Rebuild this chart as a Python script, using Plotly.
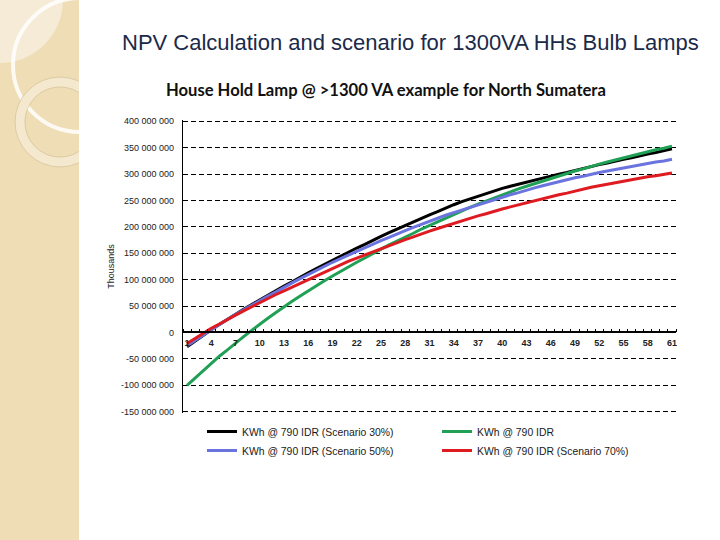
import plotly.graph_objects as go

# ---------------- data (values in the displayed unit, millions) ----------------
years = list(range(1, 62))

scenario_30 = [-27, -16, -5, 5, 15, 25, 35, 44, 53, 62,
               71, 79, 88, 96, 105, 113, 121, 129, 137, 145,
               152, 160, 167, 175, 182, 189, 196, 203, 210, 216,
               223, 229, 236, 242, 248, 253, 259, 264, 268, 273,
               277, 281, 285, 289, 292, 296, 300, 303, 307, 311,
               314, 318, 321, 325, 328, 331, 335, 338, 341, 345,
               348]

base_790 = [-100, -86, -72, -58, -45, -33, -20, -8, 4, 16,
            27, 38, 49, 59, 69, 79, 88, 98, 107, 116,
            124, 133, 141, 150, 158, 166, 173, 181, 188, 196,
            203, 210, 217, 224, 230, 237, 243, 249, 255, 261,
            266, 272, 277, 282, 287, 292, 297, 301, 306, 310,
            315, 319, 323, 327, 331, 335, 338, 342, 346, 349,
            353]

scenario_50 = [-25, -15, -4, 6, 15, 25, 34, 43, 51, 60,
               69, 77, 86, 94, 102, 110, 118, 125, 133, 140,
               147, 154, 161, 167, 174, 180, 187, 193, 199, 205,
               211, 216, 222, 227, 232, 237, 242, 247, 251, 256,
               261, 265, 270, 274, 278, 282, 286, 289, 293, 296,
               300, 303, 306, 309, 312, 315, 317, 320, 323, 325,
               328]

scenario_70 = [-21, -11, -2, 8, 16, 25, 33, 41, 49, 57,
               64, 72, 79, 86, 94, 101, 108, 115, 122, 128,
               135, 141, 147, 153, 159, 165, 170, 176, 181, 187,
               192, 197, 202, 207, 212, 216, 221, 225, 230, 234,
               238, 242, 246, 250, 253, 257, 261, 264, 268, 271,
               275, 278, 281, 284, 287, 290, 292, 295, 297, 300,
               302]

series_names = ["KWh @ 790 IDR (Scenario 30%)", "KWh @ 790 IDR",
                "KWh @ 790 IDR (Scenario 50%)", "KWh @ 790 IDR (Scenario 70%)"]
series_colors = ["#000000", "#1FA055", "#6B74DE", "#DF1B22"]

y_ticks = [-150000000, -100000000, -50000000, 0, 50000000, 100000000,
           150000000, 200000000, 250000000, 300000000, 350000000, 400000000]
y_tick_labels = [f"{v:,}".replace(",", " ") for v in y_ticks]

UNIT = 1_000_000

# ---------------- layout geometry (pixels) ----------------
W, H = 720, 540
Y_MIN, Y_MAX = -152_500_000, 402_500_000   # tiny padding so edge gridlines show
L, R, T, B = 183, 676, 120, 413
PW, PH = R - L, B - T


def px(x):
    return (x - L) / PW


def py(y):
    return 1 - (y - T) / PH


def circle(cx, cy, r, **kw):
    return dict(type="circle", xref="paper", yref="paper",
                x0=px(cx - r), x1=px(cx + r), y0=py(cy + r), y1=py(cy - r),
                layer="below", **kw)


shapes = [
    dict(type="rect", xref="paper", yref="paper", x0=px(0), x1=px(79),
         y0=py(540), y1=py(0), fillcolor="#EFDDB6", line=dict(width=0), layer="below"),
    circle(0, 0, 63, fillcolor="#F5EBD6", line=dict(width=0)),
    circle(80, 65, 67, line=dict(color="rgba(255,255,255,0.85)", width=4)),
    circle(60, 122, 40, line=dict(color="#F4E8CF", width=9)),
    circle(60, 122, 45, line=dict(color="#D8C6A0", width=0.8)),
    circle(60, 122, 35, line=dict(color="#D8C6A0", width=0.8)),
    dict(type="rect", xref="paper", yref="paper", x0=px(79), x1=px(150),
         y0=py(200), y1=py(55), fillcolor="#FFFFFF", line=dict(width=0), layer="below"),
]

fig = go.Figure()
for vals, name, color in zip([scenario_30, base_790, scenario_50, scenario_70],
                             series_names, series_colors):
    fig.add_trace(go.Scatter(x=years, y=[v * UNIT for v in vals], mode="lines",
                             name=name, line=dict(color=color, width=3)))

fig.update_layout(
    width=W, height=H, autosize=False,
    margin=dict(l=L, r=W - R, t=T, b=H - B, pad=0),
    paper_bgcolor="white", plot_bgcolor="white",
    font=dict(family="Liberation Sans", color="#222222"),
    shapes=shapes,
    showlegend=True,
    legend=dict(orientation="h", x=px(202), y=py(417), xanchor="left", yanchor="top",
                entrywidth=190, entrywidthmode="pixels", traceorder="normal",
                font=dict(family="Liberation Sans", size=10.4, color="#1A1A1A"),
                bgcolor="rgba(0,0,0,0)"),
    annotations=[
        dict(text="NPV Calculation and scenario for 1300VA HHs Bulb Lamps",
             xref="paper", yref="paper", x=px(410), y=py(42), showarrow=False,
             xanchor="center", yanchor="middle",
             font=dict(family="Liberation Sans", size=22, color="#1B2A4A")),
        dict(text="<b>House Hold Lamp @ >1300 VA example for North Sumatera</b>",
             xref="paper", yref="paper", x=px(386), y=py(90), showarrow=False,
             xanchor="center", yanchor="middle",
             font=dict(family="Lato", size=16.6, color="#111111")),
    ],
)

fig.update_xaxes(
    type="linear", range=[0.5, 61.5], tickmode="linear", tick0=1, dtick=3,
    anchor="free", position=(0 - Y_MIN) / (Y_MAX - Y_MIN), showline=True,
    linecolor="black", linewidth=1.6,
    showgrid=False, zeroline=False, ticks="", automargin=False,
    minor=dict(ticks="inside", tickmode="linear", tick0=0.5, dtick=1, ticklen=3,
               tickcolor="black", tickwidth=1, showgrid=False),
    tickfont=dict(family="Liberation Sans", size=9, color="#222222", weight="bold"),
    ticklabelstandoff=2,
)

fig.update_yaxes(
    range=[Y_MIN, Y_MAX], tickmode="array", tickvals=y_ticks, ticktext=y_tick_labels,
    showgrid=True, gridcolor="black", gridwidth=1.2, griddash="5px,3px",
    showline=True, linecolor="black", linewidth=1.3, zeroline=False, ticks="",
    automargin=False, ticklabelstandoff=6,
    tickfont=dict(family="Liberation Sans", size=9, color="#222222"),
    title=dict(text="Thousands", font=dict(family="Liberation Sans", size=9, color="#222222"),
               standoff=4),
)

fig.write_html("out.html", config={"displayModeBar": False},
               post_script="document.body.style.margin='0px';")
